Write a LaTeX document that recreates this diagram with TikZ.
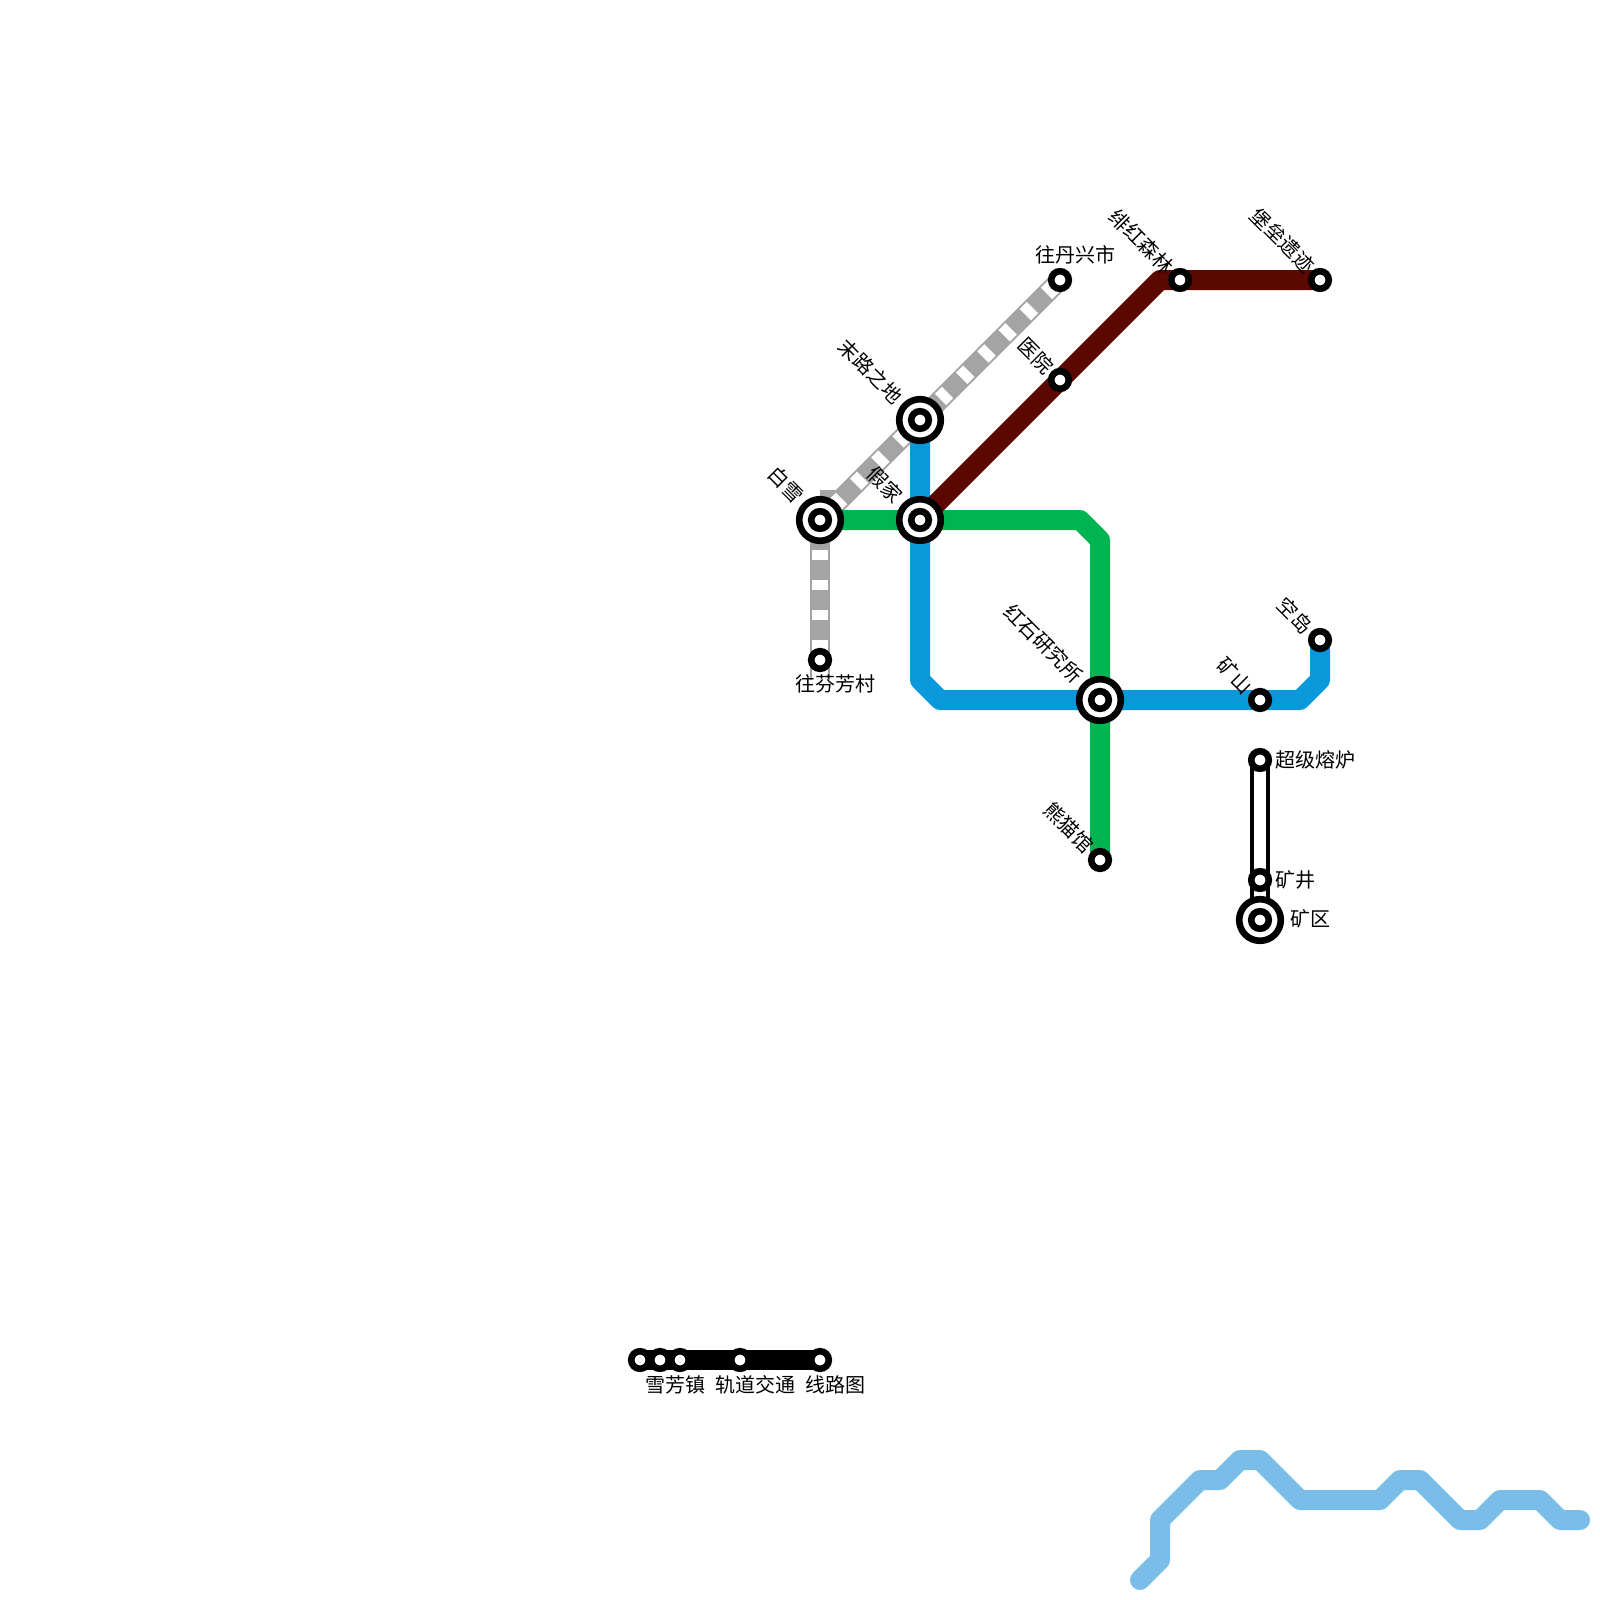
\documentclass[tikz,border=0pt]{standalone}
\usepackage{fontspec}
\newfontfamily\cjk{Noto Sans CJK SC}
\usepackage{tikz}
\usetikzlibrary{calc,backgrounds}
\definecolor{lineblue}{HTML}{0998DA}
\definecolor{linegreen}{HTML}{00B451}
\definecolor{linered}{HTML}{5A0800}
\definecolor{linegray}{HTML}{A4A4A4}
\definecolor{riverblue}{HTML}{7ABDE9}
\tikzset{
	station/.style={circle,draw=black,fill=white,line width=6.6pt,minimum size=17.6pt,inner sep=0pt},
	hub/.style={circle,draw=black,fill=white,line width=6.6pt,minimum size=41.6pt,inner sep=0pt},
	name text/.style={font=\cjk\fontsize{20pt}{20pt}\selectfont,inner sep=0pt,text height=17.6pt,text depth=2.4pt},
	slant text/.style={name text,rotate=-45,anchor=east},
	metro/.style={line width=20pt,line join=round},
	river/.style={line width=20pt,line join=round,line cap=round,riverblue},
	dash white/.style={line width=16pt,white,dash pattern=on 10pt off 20pt}
}

\begin{document}
\begin{tikzpicture}[x=1pt,y=-1pt]
	\useasboundingbox (0,0) rectangle (1600,1600);

	% 换乘站
	\node[hub] (baixue) at (820,520) {};
	\node[station] (baixuein) at (baixue) {};
	\node[hub] (jiajia) at (920,520) {};
	\node[station] (jiajiain) at (jiajia) {};
	\node[hub] (molu) at (920,420) {};
	\node[station] (moluin) at (molu) {};
	\node[hub] (hongshi) at (1100,700) {};
	\node[station] (hongshiin) at (hongshi) {};
	\node[hub] (kuangqu) at (1260,920) {};
	\node[station] (kuangquin) at (kuangqu) {};

	% 普通站
	\node[station] (danxing) at (1060,280) {};
	\node[station] (fenfang) at (820,660) {};
	\node[station] (yiyuan) at (1060,380) {};
	\node[station] (feihong) at (1180,280) {};
	\node[station] (baolei) at (1320,280) {};
	\node[station] (kuangshan) at (1260,700) {};
	\node[station] (kongdao) at (1320,640) {};
	\node[station] (xiongmao) at (1100,860) {};
	\node[station] (chaoji) at (1260,760) {};
	\node[station] (kuangjing) at (1260,880) {};

	% 图例的站
	\node[station] (logoa) at (640,1360) {};
	\node[station] (logob) at (660,1360) {};
	\node[station] (logoc) at (680,1360) {};
	\node[station] (logod) at (740,1360) {};
	\node[station] (logoe) at (820,1360) {};

	% 线路转折点
	\coordinate (fenfangtail) at (820,680);
	\coordinate (redbend) at (1160,280);
	\coordinate (greenbenda) at (1080,520);
	\coordinate (greenbendb) at (1100,540);
	\coordinate (bluebenda) at (920,680);
	\coordinate (bluebendb) at (940,700);
	\coordinate (bluebendc) at (1300,700);
	\coordinate (bluebendd) at (1320,680);

	\begin{pgfonlayer}{background}
		% 河流
		\draw[river] (1140,1580) -- (1160,1560) -- (1160,1520) -- (1200,1480) -- (1220,1480)
			-- (1240,1460) -- (1260,1460) -- (1300,1500) -- (1380,1500) -- (1400,1480)
			-- (1420,1480) -- (1460,1520) -- (1480,1520) -- (1500,1500) -- (1540,1500)
			-- (1560,1520) -- (1580,1520);

		% 灰色虚线
		\fill[linegray] (820,490) rectangle (840,510);
		\draw[line width=20pt,linegray] (fenfangtail) -- (baixue.center);
		\draw[dash white] (fenfangtail) -- (baixue.center);
		\draw[line width=20pt,linegray] (danxing.center) -- (baixue.center);
		\draw[dash white,dash phase=21pt] (danxing.center) -- (baixue.center);

		% 绿线
		\draw[metro,linegreen] (baixue.center) -- (greenbenda) -- (greenbendb) -- (xiongmao.center);
		% 蓝线
		\draw[metro,lineblue] (molu.center) -- (bluebenda) -- (bluebendb) -- (bluebendc) -- (bluebendd) -- (kongdao.center);
		% 红线
		\draw[metro,linered] (jiajia.center) -- (redbend) -- (baolei.center);

		% 双线
		\draw[line width=20pt,black] (chaoji.center) -- (kuangqu.center);
		\draw[line width=12pt,white] (chaoji.center) -- (kuangqu.center);

		% 图例线
		\draw[line width=20pt,black] (logoa.center) -- (logoe.center);
	\end{pgfonlayer}

	% 站名
	\node[slant text] (tbaixue) at ($(baixue)+(-20,-21)$) {白雪};
	\node[slant text] (tjiajia) at ($(jiajia)+(-21,-21)$) {假家};
	\node[slant text] (tmolu) at ($(molu)+(-21,-20)$) {末路之地};
	\node[slant text] (thongshi) at ($(hongshi)+(-21,-21)$) {红石研究所};
	\node[slant text] (tyiyuan) at ($(yiyuan)+(-10,-10)$) {医院};
	\node[slant text] (tfeihong) at ($(feihong)+(-10,-10)$) {绯红森林};
	\node[slant text] (tbaolei) at ($(baolei)+(-9,-11)$) {堡垒遗迹};
	\node[slant text] (tkuangshan) at ($(kuangshan)+(-11,-10)$) {矿山};
	\node[slant text] (tkongdao) at ($(kongdao)+(-11,-10)$) {空岛};
	\node[slant text] (txiongmao) at ($(xiongmao)+(-10,-11)$) {熊猫馆};
	\node[name text,anchor=west] (tchaoji) at (1275,760) {超级熔炉};
	\node[name text,anchor=west] (tkuangjing) at (1275,880) {矿井};
	\node[name text,anchor=west] (tkuangqu) at (1290,919) {矿区};
	\node[name text] (tdanxing) at (1075,255) {往丹兴市};
	\node[name text] (tfenfang) at (835,684) {往芬芳村};

	% 图例文字
	\node[name text] (tlogoa) at (675,1385) {雪芳镇};
	\node[name text] (tlogob) at (755,1385) {轨道交通};
	\node[name text] (tlogoc) at (835,1385) {线路图};
\end{tikzpicture}
\end{document}
